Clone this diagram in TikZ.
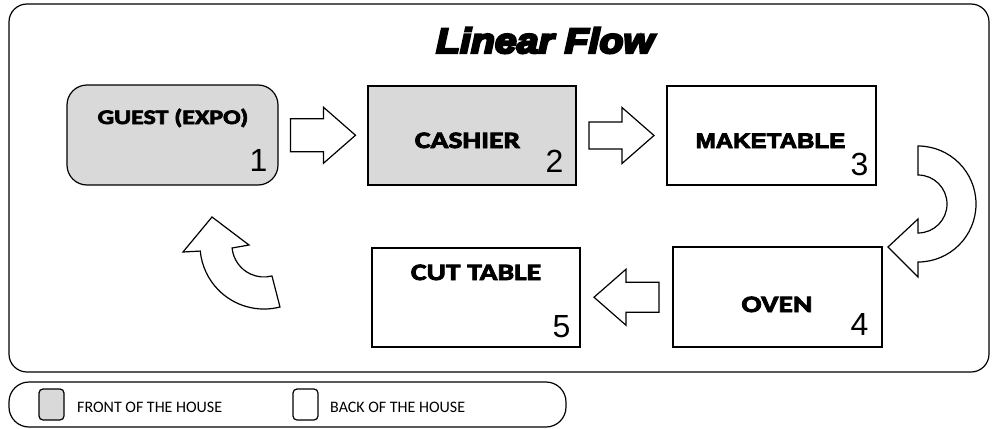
\documentclass[tikz,border=0pt]{standalone}
\usepackage{fontspec}
\usetikzlibrary{calc}
\newfontfamily\lblfont{Carlito}[FakeStretch=1.26,FakeBold=3.5]
\newfontfamily\ttlfont{Liberation Sans}[FakeStretch=1.12,FakeBold=7]
\newfontfamily\mkfont{Liberation Sans}[FakeStretch=1.15,FakeBold=4]
\newfontfamily\numfont{Liberation Sans}
\newfontfamily\lgfont{Carlito}
\definecolor{fhgray}{HTML}{D9D9D9}
\tikzset{
  outline/.style={draw=black, line width=1.2pt},
  stationbox/.style={outline, rectangle, inner sep=0pt},
  lbl/.style={anchor=base, inner sep=0pt, font=\lblfont\bfseries\fontsize{23.5}{26}\selectfont},
  num/.style={anchor=base east, inner sep=0pt, font=\numfont\fontsize{32}{36}\selectfont},
  lgtext/.style={anchor=base west, inner sep=0pt, font=\lgfont\fontsize{16}{18}\selectfont},
  arrowline/.style={outline, fill=white, line join=miter},
  pics/blockarrow/.style={code={
    \draw[arrowline] (-32.5,-#1) -- (0.5,-#1) -- (0.5,-28) -- (32.5,0) -- (0.5,28) -- (0.5,#1) -- (-32.5,#1) -- cycle;
  }}
}
\begin{document}
\begin{tikzpicture}[x=1pt,y=1pt,yscale=-1]
\useasboundingbox (0,0) rectangle (992,428);
% outer frame
\draw[outline, rounded corners=18] (9,4) rectangle (989,372);
% title
\node[anchor=base, inner sep=0pt, font=\ttlfont\bfseries\itshape\fontsize{35}{40}\selectfont] (title) at (545,53) {Linear Flow};
% stations
\node[stationbox, fill=fhgray, rounded corners=20, minimum width=211, minimum height=100] (n1) at (172.5,135) {};
\node[stationbox, fill=fhgray, minimum width=208, minimum height=99] (n2) at (472,135.5) {};
\node[stationbox, minimum width=209, minimum height=99] (n3) at (771.5,135.5) {};
\node[stationbox, minimum width=209, minimum height=100] (n4) at (777.5,297) {};
\node[stationbox, minimum width=208, minimum height=99] (n5) at (476,297.5) {};
% labels
\node[lbl, font=\lblfont\bfseries\fontsize{20.6}{24}\selectfont] (t1) at (173,124) {GUEST (EXPO)};
\node[lbl] (t2) at (467.5,148) {CASHIER};
\node[anchor=base, inner sep=0pt, font=\mkfont\bfseries\fontsize{21}{24}\selectfont] (t3) at (770.5,148) {MAKETABLE};
\node[lbl] (t4) at (777,312) {OVEN};
\node[lbl] (t5) at (476,280) {CUT TABLE};
% numbers
\node[num] (c1) at (267.5,171) {1};
\node[num] (c2) at (563.5,172) {2};
\node[num] (c3) at (868.5,175) {3};
\node[num] (c4) at (868.5,335) {4};
\node[num] (c5) at (570.5,337) {5};
% straight block arrows
\pic at ($(n1.east)!0.5!(n2.west)$) {blockarrow=16.5};
\pic at ($(n2.east)!0.5!(n3.west)$) {blockarrow=13.5};
\pic[xscale=-1] at ($(n4.west)!0.5!(n5.east)$) {blockarrow=15};
% curved arrow from 3 to 4
\draw[arrowline] (918,146) arc[start angle=-90, end angle=90, radius=58]
  -- (918,277) -- (888,247) -- (918,219) -- (918,233)
  arc[start angle=90, end angle=-90, radius=29] -- cycle;
% curved arrow from 5 to 1
\draw[arrowline] (212,217) -- (249,245) -- (232.1,248)
  arc[start angle=174.6, end angle=75.5, radius=32]
  -- (280,307)
  arc[start angle=75.5, end angle=174.6, radius=64]
  -- (183,252) -- cycle;
% legend
\draw[outline, rounded corners=20] (9,382) rectangle (566,427);
\draw[outline, fill=fhgray, rounded corners=4] (39,389) rectangle (64,420);
\node[lgtext] (l1) at (77,412) {FRONT OF THE HOUSE};
\draw[outline, fill=white, rounded corners=4] (293,389) rectangle (318,420);
\node[lgtext] (l2) at (330,412) {BACK OF THE HOUSE};
\end{tikzpicture}
\end{document}
